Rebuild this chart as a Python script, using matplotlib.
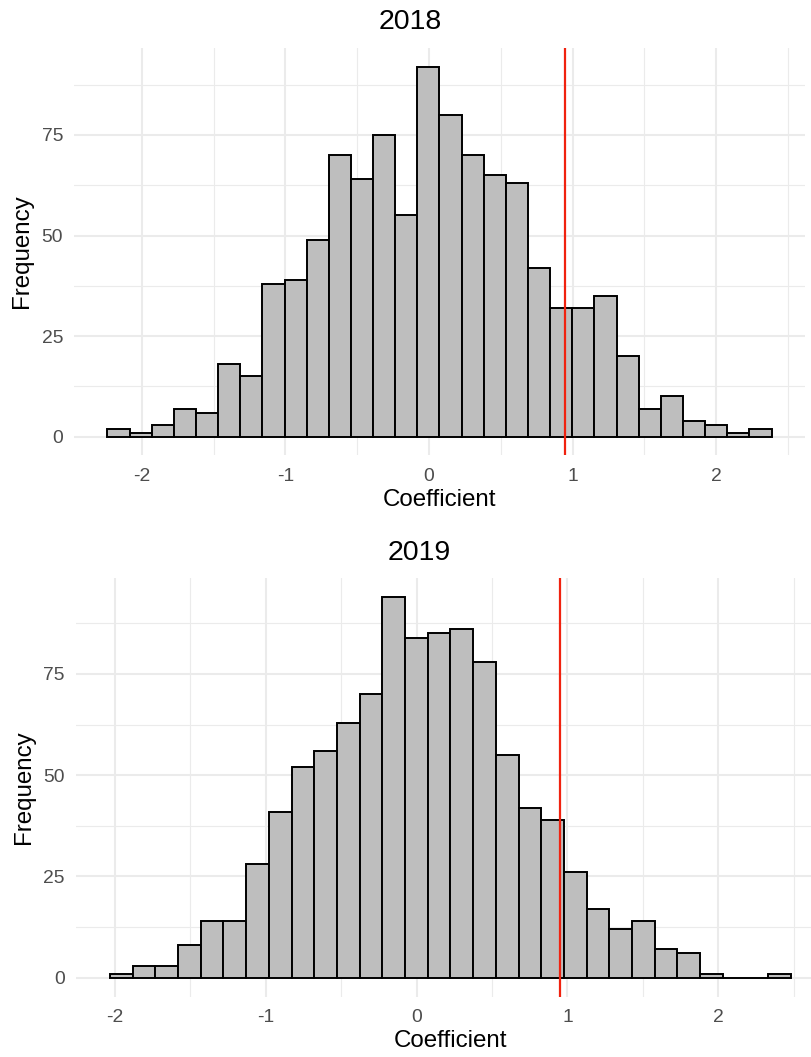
import matplotlib
matplotlib.use("Agg")
import matplotlib.pyplot as plt
import numpy as np

plt.rcParams['font.family'] = ['Liberation Sans', 'DejaVu Sans']
plt.rcParams['axes.unicode_minus'] = False

# histogram counts per bin (30 bins each)
counts_2018 = [2, 1, 3, 7, 6, 18, 15, 38, 39, 49, 70, 64, 75, 55, 92,
               80, 70, 65, 63, 42, 32, 32, 35, 20, 7, 10, 4, 3, 1, 2]
counts_2019 = [1, 3, 3, 8, 14, 14, 28, 41, 52, 56, 63, 70, 94, 84, 85,
               86, 78, 55, 42, 39, 26, 17, 12, 14, 7, 6, 1, 0, 0, 1]
# outer bin edges
range_2018 = (-2.240, 2.386)
range_2019 = (-2.034, 2.482)
# observed coefficient
observed = 0.95

years = ['2018', '2019']
counts = [counts_2018, counts_2019]
ranges = [range_2018, range_2019]

W, H = 811, 1057
fig = plt.figure(figsize=(W / 100, H / 100), dpi=100)

# panel boxes in pixels: left, top, right, bottom
boxes = [(74.2, 48.0, 804.8, 455.2), (75.9, 578.0, 825.0, 996.7)]
title_pos = [(410, 29), (419, 560)]

grid_col = '#EBEBEB'

for year, cnt, rng, box, tpos in zip(years, counts, ranges, boxes, title_pos):
    l, t, r, b = box
    ax = fig.add_axes([l / W, 1 - b / H, (r - l) / W, (b - t) / H])
    cnt = np.array(cnt)
    edges = np.linspace(rng[0], rng[1], len(cnt) + 1)
    bw = edges[1] - edges[0]

    ax.bar(edges[:-1], cnt, width=bw, align='edge', color='#BEBEBE',
           edgecolor='black', linewidth=1.4, zorder=2)
    ax.axvline(observed, color='#F0220F', linewidth=1.6, zorder=3)

    # ggplot-like expansion: 5% on each side
    xpad = (rng[1] - rng[0]) * 0.05
    ax.set_xlim(rng[0] - xpad, rng[1] + xpad)
    ypad = cnt.max() * 0.05
    ax.set_ylim(-ypad, cnt.max() + ypad)

    ax.set_xticks([-2, -1, 0, 1, 2])
    ax.set_xticks([-1.5, -0.5, 0.5, 1.5, 2.5], minor=True)
    ax.set_yticks([0, 25, 50, 75])
    ax.set_yticks([12.5, 37.5, 62.5, 87.5], minor=True)
    ax.grid(which='major', color=grid_col, linewidth=1.5, zorder=0)
    ax.grid(which='minor', color=grid_col, linewidth=0.8, zorder=0)
    ax.set_axisbelow(True)

    for s in ax.spines.values():
        s.set_visible(False)
    ax.tick_params(which='both', length=0)
    ax.tick_params(axis='x', labelsize=13.9, labelcolor='#4D4D4D', pad=9)
    ax.tick_params(axis='y', labelsize=13.9, labelcolor='#4D4D4D', pad=8)

    ax.set_xlabel('Coefficient', fontsize=17.4, labelpad=3)
    ax.set_ylabel('Frequency', fontsize=17.4, labelpad=6)

    fig.text(tpos[0] / W, 1 - tpos[1] / H, year, fontsize=20.5,
             ha='center', va='baseline')

fig.savefig('out.png', dpi=100)
